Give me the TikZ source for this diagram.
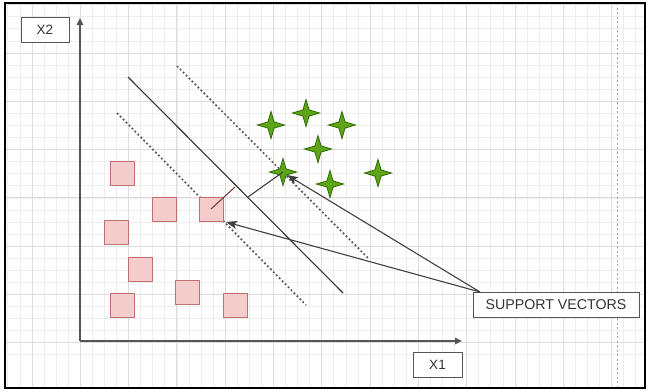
\documentclass[tikz,border=0pt]{standalone}
\usepackage{fontspec}
\setmainfont{Liberation Sans}
\usetikzlibrary{arrows.meta,shapes.geometric}
\definecolor{gridminor}{HTML}{EEEEEE}
\definecolor{gridmajor}{HTML}{DDDDDD}
\definecolor{boxline}{HTML}{555555}
\definecolor{txt}{HTML}{333333}
\definecolor{sqfill}{HTML}{F4CCCC}
\definecolor{sqline}{HTML}{C07070}
\definecolor{starfill}{HTML}{5FA51A}
\definecolor{starline}{HTML}{2D6A00}
\definecolor{perpline}{HTML}{7A3E3E}
\tikzset{
  labelbox/.style={draw=boxline, line width=1pt, fill=white, text=txt,
    minimum height=25pt, inner sep=0pt, font=\fontsize{13.5}{14}\selectfont},
  sqmark/.style={rectangle, draw=sqline, line width=0.9pt, fill=sqfill,
    minimum size=24pt, inner sep=0pt},
  starmark/.style={star, star points=4, star point ratio=3.1, draw=starline,
    line width=0.8pt, fill=starfill, minimum size=27pt, inner sep=0pt},
  axis/.style={draw=boxline, line width=1.3pt, -{Triangle[length=7pt,width=6.5pt]}},
  plane/.style={draw=black!80, line width=1.1pt},
  margin/.style={draw=black!65, line width=1.7pt, dash pattern=on 1.8pt off 2.4pt},
  pointer/.style={draw=black!75, line width=1.1pt, -{Stealth[length=11pt,width=8pt,inset=2.5pt]}},
}
\begin{document}
\begin{tikzpicture}[x=1pt,y=-1pt]
\useasboundingbox (0,0) rectangle (648,391);
% background grid
\begin{scope}
\clip (5,3) rectangle (645,388);
\fill[white] (0,0) rectangle (648,391);
\foreach \i in {0,...,55} {
  \draw[gridminor, line width=0.8pt] ({-16.3+12.075*\i},0) -- ({-16.3+12.075*\i},391);
}
\foreach \j in {0,...,33} {
  \draw[gridminor, line width=0.8pt] (0,{-43.6+12.075*\j}) -- (648,{-43.6+12.075*\j});
}
\foreach \i in {0,...,14} {
  \draw[gridmajor, line width=1pt] ({-16.3+48.3*\i},0) -- ({-16.3+48.3*\i},391);
}
\foreach \j in {0,...,9} {
  \draw[gridmajor, line width=1pt] (0,{4.7+48.3*\j}) -- (648,{4.7+48.3*\j});
}
\draw[black!35, line width=1pt, dash pattern=on 2pt off 2.5pt] (617,3) -- (617,388);
\end{scope}
% frame
\draw[black, line width=2pt] (5,3) rectangle (645,388);

% axes
\coordinate (origin) at (80,341);
\coordinate (ytip) at (80,18);
\coordinate (xtip) at (462,341);
\draw[axis] (origin) -- (ytip);
\draw[axis] (origin) -- (xtip);
\node[labelbox, minimum width=48pt] (x2) at (45,29.5) {X2};
\node[labelbox, minimum width=49pt] (x1) at (437.5,365) {X1};

% separating hyperplane and margins
\draw[plane] (128,77) -- (343,293);
\draw[margin] (177,66) -- (368,258);
\draw[margin] (117,113) -- (306,305);

% class A: squares
\node[sqmark] (q1) at (122,173) {};
\node[sqmark] (q2) at (164,209) {};
\node[sqmark] (q3) at (211,209) {};
\node[sqmark] (q4) at (116,232) {};
\node[sqmark] (q5) at (140,269) {};
\node[sqmark] (q6) at (187,292) {};
\node[sqmark] (q7) at (122,305) {};
\node[sqmark] (q8) at (235,305) {};

% class B: stars
\node[starmark] (s1) at (271,125) {};
\node[starmark] (s2) at (306,113) {};
\node[starmark] (s3) at (342,125) {};
\node[starmark] (s4) at (318,149) {};
\node[starmark] (s5) at (283,172) {};
\node[starmark] (s6) at (330,184) {};
\node[starmark] (s7) at (378,173) {};

% distances to the hyperplane
\coordinate (footA) at (235,187);
\coordinate (footB) at (248,197);
\draw[perpline, line width=1.1pt] (q3.center) -- (footA);
\draw[black!75, line width=1.1pt] (footB) -- (s5.center);

% label and pointers to the support vectors
\node[labelbox, minimum width=166pt, font=\fontsize{14.2}{15}\selectfont] (sv) at (556,304.5) {SUPPORT VECTORS};
\coordinate (svfrom) at (480,292);
\coordinate (tipB) at (287,175);
\coordinate (tipA) at (226,222);
\draw[pointer] (svfrom) -- (tipB);
\draw[pointer] (svfrom) -- (tipA);
\end{tikzpicture}
\end{document}
